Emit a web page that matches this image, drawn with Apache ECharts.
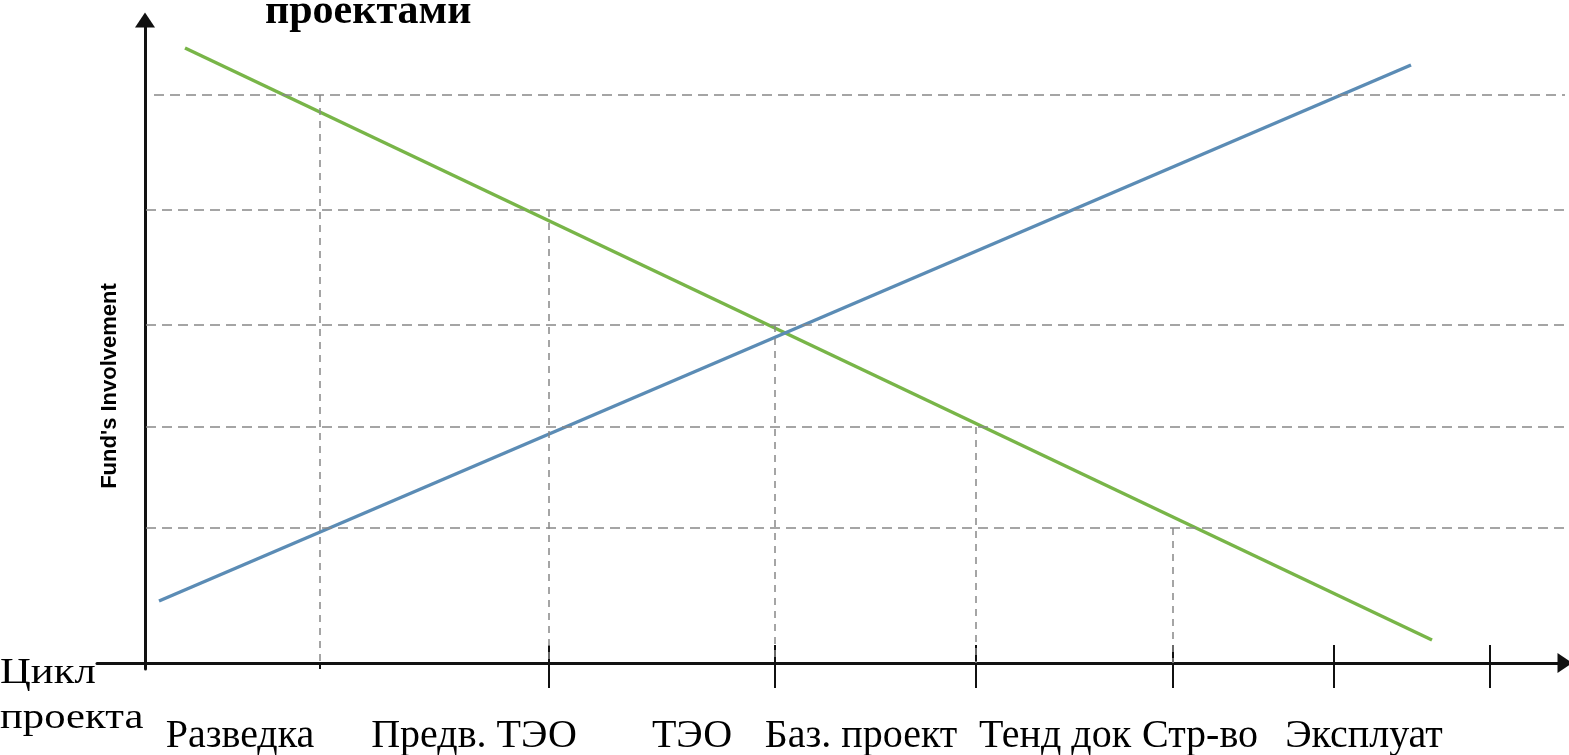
<!DOCTYPE html>
<html>
<head>
    <meta charset="utf-8">
    <title>Цикл проекта</title>
    <script src="https://cdn.jsdelivr.net/npm/echarts@6/dist/echarts.min.js"></script>
    <style>
        body { margin: 0; background: #fff; }
        #chart1 { width: 1569px; height: 755px; }
    </style>
</head>
<body>
    <div id="chart1"></div>
    <script type="text/javascript">
        // фазы проекта и где стоят подписи (x в тех же единицах, что и ось)
        var phases = ['Разведка', 'Предв. ТЭО', 'ТЭО', 'Баз. проект', 'Тенд док', 'Стр-во', 'Эксплуат'];
        var phaseLabelX = [95, 329, 547, 716, 910, 1055, 1219];
        var phaseTickX = [404, 630, 831, 1028, 1189, 1345];

        // две линии: начало и конец
        var greenLine = [[40, 615], [1287, 23]];
        var blueLine = [[14, 62], [1266, 598]];

        // пунктирная сетка: уровни по y, начало по x, вертикали "лесенкой"
        var gridLevels = [568, 453, 338, 236, 135];
        var gridStartX = [9, 1, 1, 1, 1];
        var stepX = [175, 404, 630, 831, 1028];

        var xMin = -48, xMax = 1420, yMin = -6, yMax = 643;

        var myChart1 = echarts.init(document.getElementById('chart1'));

        var hLines = [];
        for (var i = 0; i < gridLevels.length; i++) {
            hLines.push([{coord: [gridStartX[i], gridLevels[i]]}, {coord: [xMax, gridLevels[i]]}]);
        }
        var vLines = [];
        for (var j = 0; j < stepX.length; j++) {
            vLines.push([{coord: [stepX[j], gridLevels[j]]}, {coord: [stepX[j], 0]}]);
        }

        var axisLineStyle = {color: '#111', width: 3};

        var option = {
            animation: false,
            grid: {left: 97, right: 4, top: 20, bottom: 86, outerBoundsMode: 'none', containLabel: false},
            graphic: [
                {
                    type: 'text', left: 265, top: -9,
                    style: {text: 'проектами', font: 'bold 42px "Liberation Serif"', fill: '#000'}
                },
                {
                    type: 'text', x: 110, y: 386, rotation: Math.PI / 2,
                    style: {text: "Fund's Involvement", font: 'bold 22px "Liberation Sans"', fill: '#000',
                        align: 'center', verticalAlign: 'middle'}
                },
                {
                    type: 'text', x: 0, y: 651, scaleX: 1.22,
                    style: {text: 'Цикл\nпроекта', font: '35px "Liberation Serif"', lineHeight: 45, fill: '#000'}
                }
            ],
            xAxis: [
                {
                    type: 'value', min: xMin, max: xMax, position: 'bottom',
                    axisLine: {onZero: true, symbol: ['none', 'triangle'], symbolSize: [20, 15], lineStyle: axisLineStyle},
                    axisTick: {show: true, customValues: phaseTickX, length: 25, lineStyle: {color: '#111', width: 2}},
                    axisLabel: {
                        show: true, customValues: phaseLabelX, margin: 47,
                        fontFamily: 'Liberation Serif', fontSize: 40, color: '#000',
                        formatter: function (v) { return phases[phaseLabelX.indexOf(v)]; }
                    },
                    splitLine: {show: false}
                },
                {
                    type: 'value', min: xMin, max: xMax, position: 'bottom',
                    axisLine: {show: false, onZero: true},
                    axisTick: {show: true, inside: true, customValues: phaseTickX, length: 24, lineStyle: {color: '#111', width: 2}},
                    axisLabel: {show: false},
                    splitLine: {show: false}
                }
            ],
            yAxis: {
                type: 'value', min: yMin, max: yMax,
                axisLine: {onZero: true, symbol: ['none', 'triangle'], symbolSize: [20, 15], lineStyle: axisLineStyle},
                axisTick: {show: false},
                axisLabel: {show: false},
                splitLine: {show: false}
            },
            series: [
                {
                    type: 'line', data: [], silent: true,
                    markLine: {
                        silent: true, symbol: 'none', label: {show: false},
                        lineStyle: {color: '#888', width: 1.5, type: [10, 6]},
                        data: hLines
                    }
                },
                {
                    type: 'line', data: [], silent: true,
                    markLine: {
                        silent: true, symbol: 'none', label: {show: false},
                        lineStyle: {color: '#888', width: 1.5, type: [7, 6]},
                        data: vLines
                    }
                },
                {
                    type: 'line', data: [[stepX[0], 0], [stepX[0], yMin]], symbol: 'none',
                    lineStyle: {color: '#111', width: 2}
                },
                {
                    name: 'green', type: 'line', data: greenLine, symbol: 'none',
                    lineStyle: {color: '#78b548', width: 3.5}
                },
                {
                    name: 'blue', type: 'line', data: blueLine, symbol: 'none',
                    lineStyle: {color: '#5b8cb5', width: 3.5}
                }
            ]
        };
        myChart1.setOption(option);
    </script>
</body>
</html>
